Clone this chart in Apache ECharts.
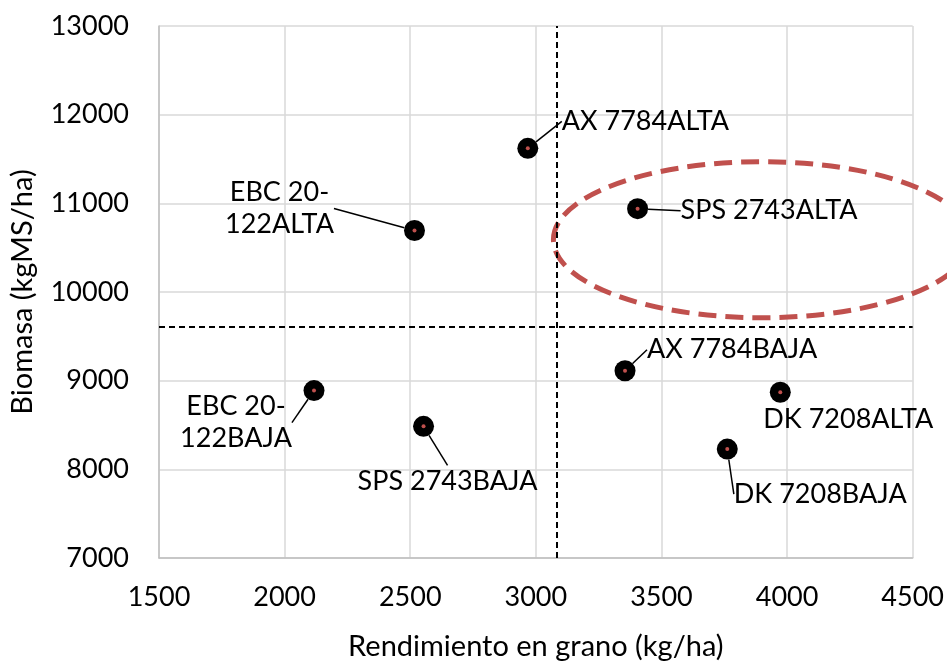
<!DOCTYPE html>
<html>
<head>
<meta charset="utf-8">
<script src="https://cdn.jsdelivr.net/npm/echarts@6/dist/echarts.min.js"></script>
<style>html,body{margin:0;padding:0;background:#fff}#c{width:947px;height:666px}</style>
</head>
<body>
<div id="c"></div>
<script>
// ---- data ----
var names = ['AX 7784ALTA','EBC 20-122ALTA','SPS 2743ALTA','AX 7784BAJA','DK 7208ALTA','DK 7208BAJA','EBC 20-122BAJA','SPS 2743BAJA'];
var rendimiento = [2968, 2517, 3405, 3355, 3973, 3762, 2117, 2553];
var biomasa = [11620, 10694, 10940, 9112, 8869, 8228, 8888, 8485];
var xTicks = [1500, 2000, 2500, 3000, 3500, 4000, 4500];
var yTicks = [7000, 8000, 9000, 10000, 11000, 12000, 13000];
// highlighted region (ellipse): center x, center y, half-width x, half-height y (data units)
var ellipse = [[3900, 10590, 830, 880]];

// ---- label placement (pixel offsets from the marker) ----
var labelOffsets = [
  {dx: 34, dy: -27, align: 'left'},
  {dx: -135, dy: -22, align: 'center'},
  {dx: 43, dy: 2, align: 'left'},
  {dx: 22, dy: -21, align: 'left'},
  {dx: 68, dy: 27, align: 'center', noLine: true},
  {dx: 93, dy: 45, align: 'center'},
  {dx: -78, dy: 32, align: 'center'},
  {dx: 24, dy: 55, align: 'center'}
];

var FONT = 'Lato';
var FS = 27;
var NFS = 29;

var meanX = rendimiento.reduce(function(a,b){return a+b;},0)/rendimiento.length;
var meanY = biomasa.reduce(function(a,b){return a+b;},0)/biomasa.length;

var pts = names.map(function(n,i){
  var item = {name: n, value: [rendimiento[i], biomasa[i]]};
  if (labelOffsets[i].noLine) item.labelLine = {show: false};
  return item;
});

var plain = function(v){ return String(v); };

var chart = echarts.init(document.getElementById('c'), null, {renderer: 'canvas'});
chart.setOption({
  animation: false,
  backgroundColor: '#fff',
  textStyle: {fontFamily: FONT},
  grid: {left: 159, right: 33, top: 26, bottom: 104, containLabel: false},
  xAxis: {
    type: 'value', min: xTicks[0], max: xTicks[xTicks.length-1], interval: 500,
    name: 'Rendimiento en grano (kg/ha)', nameLocation: 'middle', nameGap: 74,
    nameTextStyle: {fontFamily: FONT, fontSize: NFS, color: '#000'},
    axisLine: {show: true, lineStyle: {color: '#bfbfbf', width: 1.5}},
    axisTick: {show: false},
    axisLabel: {fontFamily: FONT, fontSize: FS, color: '#000', margin: 26, formatter: plain},
    splitLine: {show: true, lineStyle: {color: '#d9d9d9', width: 1.5}}
  },
  yAxis: {
    type: 'value', min: yTicks[0], max: yTicks[yTicks.length-1], interval: 1000,
    name: 'Biomasa (kgMS/ha)', nameLocation: 'middle', nameGap: 122, nameRotate: 90,
    nameTextStyle: {fontFamily: FONT, fontSize: NFS, color: '#000'},
    axisLine: {show: true, lineStyle: {color: '#bfbfbf', width: 1.5}},
    axisTick: {show: false},
    axisLabel: {fontFamily: FONT, fontSize: FS, color: '#000', margin: 30, formatter: plain},
    splitLine: {show: true, lineStyle: {color: '#d9d9d9', width: 1.5}}
  },
  series: [
    {
      type: 'custom',
      clip: false,
      z: 1,
      silent: true,
      data: ellipse,
      renderItem: function(params, api){
        var c = api.coord([api.value(0), api.value(1)]);
        var s = api.size([api.value(2), api.value(3)]);
        return {
          type: 'ellipse',
          shape: {cx: c[0], cy: c[1], rx: s[0], ry: s[1]},
          style: {fill: null, stroke: '#C0504D', lineWidth: 5, lineDash: [18, 9]}
        };
      }
    },
    {
      type: 'scatter',
      z: 3,
      symbol: 'circle',
      symbolSize: 21,
      itemStyle: {color: '#000', opacity: 1},
      data: pts,
      label: {
        show: true, position: 'inside',
        formatter: function(p){ return p.name.replace('20-', '20-\n'); },
        fontFamily: FONT, fontSize: FS, color: '#000', lineHeight: 32
      },
      labelLine: {show: true, lineStyle: {color: '#000', width: 1.5}},
      labelLayout: function(p){
        var o = labelOffsets[p.dataIndex];
        var cx = p.rect.x + p.rect.width/2, cy = p.rect.y + p.rect.height/2;
        return {x: cx + o.dx, y: cy + o.dy, align: o.align, verticalAlign: 'middle'};
      },
      markLine: {
        silent: true, symbol: 'none', label: {show: false},
        lineStyle: {color: '#000', type: [6, 4], width: 2},
        data: [{xAxis: meanX}, {yAxis: meanY}]
      }
    },
    {
      type: 'scatter',
      z: 4,
      silent: true,
      symbol: 'circle',
      symbolSize: 4,
      itemStyle: {color: '#C0504D', opacity: 1},
      data: rendimiento.map(function(v,i){ return [v, biomasa[i]]; })
    }
  ]
});
</script>
</body>
</html>
